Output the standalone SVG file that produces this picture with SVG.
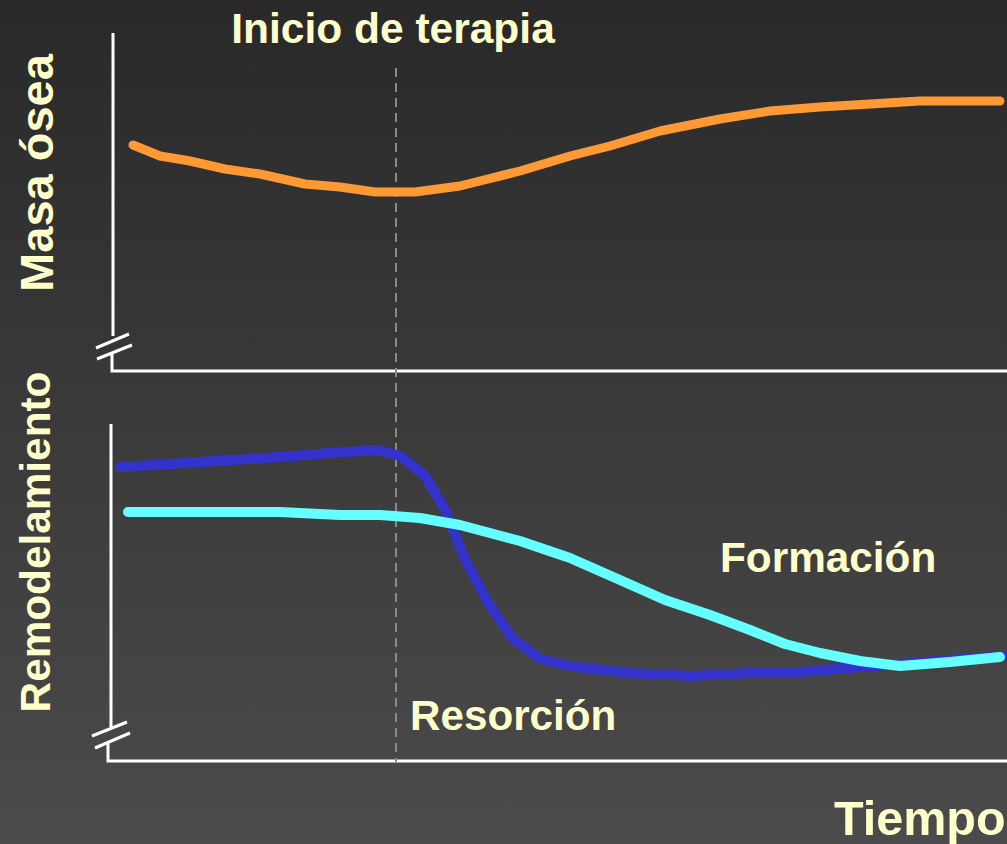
<svg xmlns="http://www.w3.org/2000/svg" width="1007" height="844" viewBox="0 0 1007 844">
<defs>
<linearGradient id="bg" x1="0" y1="0" x2="0" y2="1">
<stop offset="0" stop-color="#292929"/>
<stop offset="1" stop-color="#4b4b4b"/>
</linearGradient>
<style>
.lbl{font-family:"Liberation Sans",Arial,sans-serif;font-weight:bold;fill:#ffffcc}
.ax{stroke:#ffffff;stroke-width:3;fill:none}
.crv{fill:none;stroke-linecap:round;stroke-linejoin:round}
</style>
</defs>
<rect width="1007" height="844" fill="url(#bg)"/>
<g id="axes">
<path class="ax" d="M113,33 V336 M112,352 V371 H1007 M96,348 L129,334 M97,359 L132,345"/>
<path class="ax" d="M111,424 V727 M108,742 V761 H1007 M92,736 L127,722 M95,748 L130,733"/>
</g>
<line id="therapy-line" x1="396" y1="68" x2="396" y2="762" stroke="#8a8a8a" stroke-width="2" stroke-dasharray="9,6"/>
<g id="curves">
<polyline class="crv" stroke="#ff9933" stroke-width="9" points="133,145 160,156 190,161 225,169 260,174 305,184 340,187 375,192 415,192 460,186 520,171 570,156 610,146 660,131 720,119 770,111 820,107 870,104 920,101 1000,101"/>
<polyline class="crv" stroke="#3333cc" stroke-width="10" points="120,467 200,462 280,457 330,453 378,450 400,456 425,476 445,510 465,560 488,603 512,638 540,659 575,667 630,673 690,676 750,673 800,672 860,667 900,664 960,659 1003,656"/>
<polyline class="crv" stroke="#66ffff" stroke-width="10" points="128,512 200,512 280,512 340,515 380,515 420,518 460,525 520,541 570,558 620,580 665,600 710,615 750,630 785,644 820,653 860,661 900,666 950,662 1000,657"/>
</g>
<g id="labels">
<text class="lbl" x="393" y="43" font-size="42.5" text-anchor="middle">Inicio de terapia</text>
<text class="lbl" font-size="47" text-anchor="middle" transform="translate(53,173) rotate(-90)">Masa ósea</text>
<text class="lbl" font-size="42.3" text-anchor="middle" transform="translate(50,542) rotate(-90)">Remodelamiento</text>
<text class="lbl" x="720" y="572" font-size="42.3">Formación</text>
<text class="lbl" x="410" y="730" font-size="42.2">Resorción</text>
<text class="lbl" x="834" y="835" font-size="48.5">Tiempo</text>
</g>
</svg>
